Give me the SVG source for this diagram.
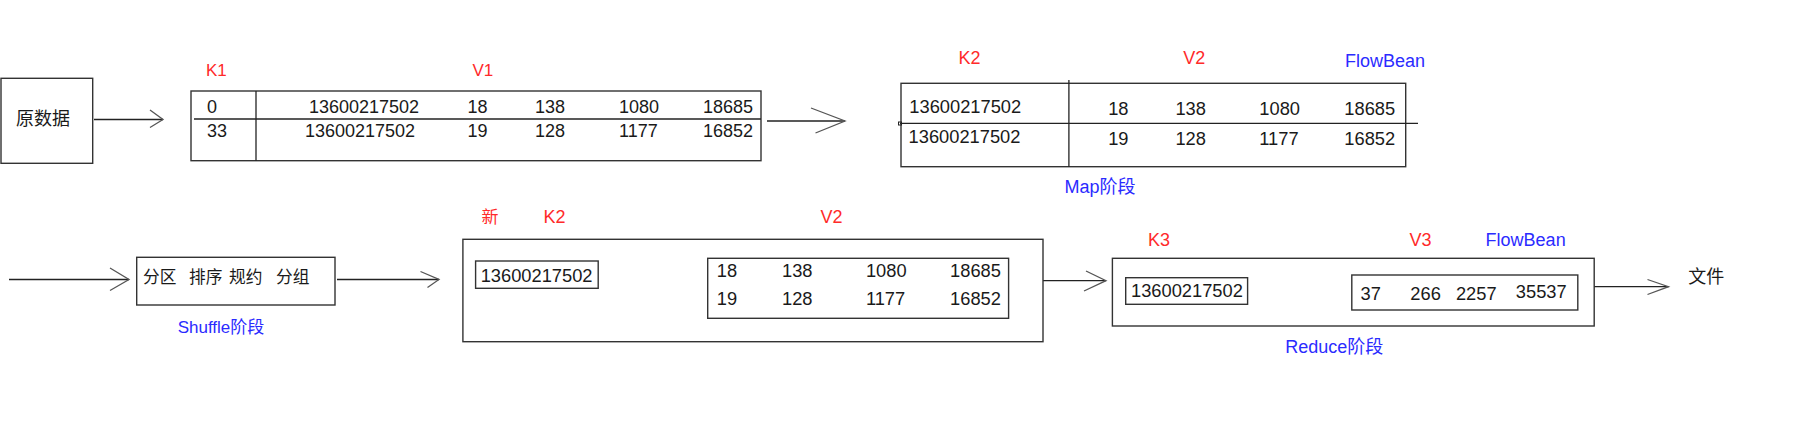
<svg xmlns="http://www.w3.org/2000/svg" width="1795" height="431" viewBox="0 0 1795 431">
<style>
.box{fill:none;stroke:#333;stroke-width:1.4}
.ln{fill:none;stroke:#222;stroke-width:1.3}
.ah{fill:none;stroke:#555;stroke-width:1.3}
text{font-family:"Liberation Sans","Noto Sans CJK SC",sans-serif;fill:#1a1a1a}
.red{fill:#ff2a2a}
.blue{fill:#2b2bff}
</style>
<rect width="1795" height="431" fill="#fff"/>

<g id="connectors">
  <line class="ln" x1="94" y1="119.5" x2="163" y2="119.5"/>
  <polyline class="ah" points="150,110 163,119.5 150,127.5"/>
  <line class="ln" x1="767" y1="121" x2="845" y2="121"/>
  <polyline class="ah" points="811,108 845,121 815.5,133"/>
  <line class="ln" x1="9" y1="279.5" x2="129" y2="279.5"/>
  <polyline class="ah" points="110,268 129,279.5 110,290.5"/>
  <line class="ln" x1="337" y1="279.5" x2="439" y2="279.5"/>
  <polyline class="ah" points="420.5,271.5 439,279.5 427.5,287.5"/>
  <line class="ln" x1="1043" y1="280.7" x2="1106" y2="280.7"/>
  <polyline class="ah" points="1086,271 1106,280.7 1084,291"/>
  <line class="ln" x1="1594" y1="286.7" x2="1668.5" y2="286.7"/>
  <polyline class="ah" points="1647.5,279.5 1668.5,286.7 1647.5,294.5"/>
</g>

<g id="raw-data">
  <rect class="box" x="1" y="78.3" width="91.7" height="85"/>
  <text x="16" y="125" font-size="18">原数据</text>
</g>

<g id="input-table">
  <text class="red" x="206" y="75.5" font-size="17">K1</text>
  <text class="red" x="472.5" y="76" font-size="17">V1</text>
  <rect class="box" x="191" y="91" width="570" height="69.7"/>
  <line class="ln" x1="256" y1="91" x2="256" y2="160.7"/>
  <line class="ln" x1="194" y1="119" x2="761" y2="119"/>
  <g font-size="18">
    <text x="207" y="113">0</text>
    <text x="207" y="137">33</text>
    <text x="309" y="113">13600217502</text>
    <text x="305" y="137">13600217502</text>
    <text x="467.5" y="113">18</text>
    <text x="535" y="113">138</text>
    <text x="619" y="113">1080</text>
    <text x="703" y="113">18685</text>
    <text x="467.5" y="137">19</text>
    <text x="535" y="137">128</text>
    <text x="619" y="137">1177</text>
    <text x="703" y="137">16852</text>
  </g>
</g>

<g id="map-stage">
  <text class="red" x="958.6" y="64.3" font-size="18">K2</text>
  <text class="red" x="1183.2" y="64.3" font-size="18">V2</text>
  <text class="blue" x="1345" y="66.7" font-size="18">FlowBean</text>
  <rect class="box" x="901" y="83.3" width="504.7" height="83.4"/>
  <line class="ln" x1="1068.9" y1="80" x2="1068.9" y2="166.7"/>
  <line class="ln" x1="900" y1="123.3" x2="1418" y2="123.3"/>
  <rect x="898.5" y="122" width="3" height="3" fill="none" stroke="#222" stroke-width="1"/>
  <g font-size="18.3">
    <text x="909.3" y="113.3">13600217502</text>
    <text x="908.6" y="142.7">13600217502</text>
    <text x="1108.2" y="115">18</text>
    <text x="1175.4" y="115">138</text>
    <text x="1259.3" y="115">1080</text>
    <text x="1344.3" y="115">18685</text>
    <text x="1108.2" y="145">19</text>
    <text x="1175.4" y="145">128</text>
    <text x="1259.3" y="145">1177</text>
    <text x="1344.3" y="145">16852</text>
  </g>
  <text class="blue" x="1064.6" y="193.3" font-size="18">Map阶段</text>
</g>

<g id="shuffle-stage">
  <rect class="box" x="136.7" y="257.3" width="198.3" height="47.7"/>
  <g font-size="16.7">
    <text x="143" y="283.3">分区</text>
    <text x="189" y="283.3">排序</text>
    <text x="229" y="283.3">规约</text>
    <text x="276" y="283.3">分组</text>
  </g>
  <text class="blue" x="177.7" y="333.3" font-size="17">Shuffle阶段</text>
</g>

<g id="grouped-data">
  <text class="red" x="481.5" y="223.3" font-size="17">新</text>
  <text class="red" x="543.6" y="223.3" font-size="18">K2</text>
  <text class="red" x="820.4" y="223.3" font-size="18">V2</text>
  <rect class="box" x="462.9" y="239.3" width="580.1" height="102.4"/>
  <rect class="box" x="475.6" y="261" width="122.6" height="27.3"/>
  <text x="480.7" y="281.7" font-size="18.3">13600217502</text>
  <rect class="box" x="707.7" y="258.3" width="300.9" height="60"/>
  <g font-size="18.3">
    <text x="716.8" y="277.3">18</text>
    <text x="782" y="277.3">138</text>
    <text x="865.9" y="277.3">1080</text>
    <text x="950.1" y="277.3">18685</text>
    <text x="716.8" y="305">19</text>
    <text x="782" y="305">128</text>
    <text x="865.9" y="305">1177</text>
    <text x="950.1" y="305">16852</text>
  </g>
</g>

<g id="reduce-stage">
  <text class="red" x="1147.9" y="245.7" font-size="18">K3</text>
  <text class="red" x="1409.4" y="245.7" font-size="18">V3</text>
  <text class="blue" x="1485.6" y="245.7" font-size="18">FlowBean</text>
  <rect class="box" x="1112.4" y="258.3" width="481.8" height="67.7"/>
  <rect class="box" x="1125.7" y="277.7" width="121.9" height="26.6"/>
  <text x="1131" y="297.3" font-size="18.3">13600217502</text>
  <rect class="box" x="1351.8" y="275" width="226" height="35"/>
  <g font-size="18.3">
    <text x="1360.6" y="300">37</text>
    <text x="1410.3" y="300">266</text>
    <text x="1455.9" y="300">2257</text>
    <text x="1515.8" y="298.3">35537</text>
  </g>
  <text class="blue" x="1285.3" y="352.7" font-size="18">Reduce阶段</text>
</g>

<g id="output-file">
  <text x="1688.2" y="282.7" font-size="18">文件</text>
</g>
</svg>
